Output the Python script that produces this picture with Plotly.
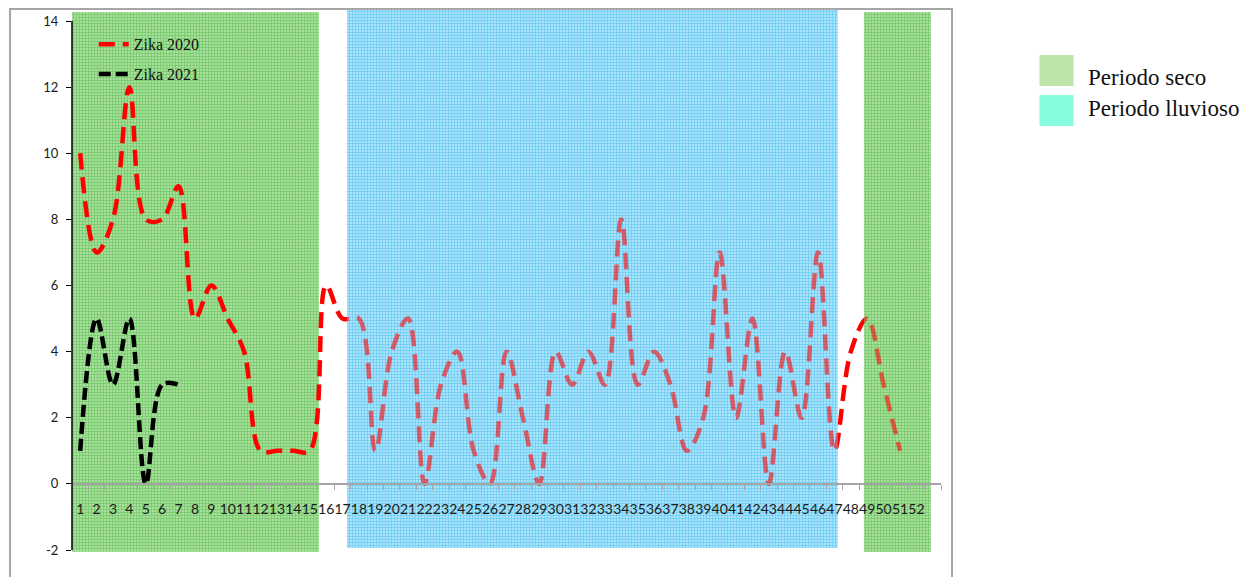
import plotly.graph_objects as go

# ---------------- data ----------------
weeks = list(range(1, 53))
week_labels = [str(w) for w in weeks]
weeks_2020 = list(range(1, 52))
zika_2020 = [10, 7, 8, 12, 8, 8, 9, 5, 6, 5, 4, 1, 1, 1, 1, 6, 5, 5, 1, 4,
             5, 0, 3, 4, 1, 0, 4, 2, 0, 4, 3, 4, 3, 8, 3, 4, 3, 1, 2, 7,
             2, 5, 0, 4, 2, 7, 1, 4, 5, 3, 1]
weeks_2021 = list(range(1, 8))
zika_2021 = [1, 5, 3, 5, 0, 3, 3]
series_names = ["Zika 2020", "Zika 2021"]

period_kind = ["seco", "lluvioso", "seco"]
period_start = [0.5, 17.27, 48.8]
period_end = [15.56, 47.2, 52.88]
period_bottom = [-2.05, -1.94, -2.05]
period_top = [14.27, 14.33, 14.27]
period_labels = ["Periodo seco", "Periodo lluvioso"]

y_ticks = [-2, 0, 2, 4, 6, 8, 10, 12, 14]
y_tick_labels = ["-2", "0", "2", "4", "6", "8", "10", "12", "14"]

# ---------------- styles ----------------
X_RANGE = [0.5, 53.5]
Y_RANGE = [-2.06, 14.333]
band_style = {
    "seco": dict(bg="#A9DE9C", fg="#3FB83A"),
    "lluvioso": dict(bg="#ABE3FA", fg="#2FB6EE"),
}
legend_box_colors = ["#BDE5AA", "#86FDDE"]
overlay_bands = [1, 2]

fig = go.Figure()

def band_trace(i, opacity, xa, ya):
    st = band_style[period_kind[i]]
    return go.Bar(
        x=[(period_start[i] + period_end[i]) / 2],
        y=[period_top[i] - period_bottom[i]],
        base=[period_bottom[i]],
        width=[period_end[i] - period_start[i]],
        marker=dict(color=st["bg"], line=dict(width=0),
                    pattern=dict(shape="+", fgcolor=st["fg"], bgcolor=st["bg"],
                                 size=3, solidity=0.45)),
        opacity=opacity, showlegend=False, hoverinfo="skip",
        xaxis=xa, yaxis=ya,
    )

for i in range(len(period_kind)):
    fig.add_trace(band_trace(i, 1.0, "x", "y"))

fig.add_trace(go.Scatter(
    x=weeks_2020, y=zika_2020, mode="lines", name=series_names[0],
    line=dict(color="#FF0000", width=4.5, dash="16px,8px", shape="spline", smoothing=1),
    legendgroup="a",
))
fig.add_trace(go.Scatter(
    x=weeks_2021, y=zika_2021, mode="lines", name=series_names[1],
    line=dict(color="#000000", width=4.5, dash="12px,5px", shape="spline", smoothing=1),
    legendgroup="b",
))

for i in overlay_bands:
    fig.add_trace(band_trace(i, 0.42, "x2", "y2"))

zero_pos = (0 - Y_RANGE[0]) / (Y_RANGE[1] - Y_RANGE[0])

shapes = [
    # y axis line
    dict(type="line", xref="paper", yref="y", x0=0, x1=0, y0=-2, y1=14,
         line=dict(color="#000000", width=1.5), layer="above"),
    # chart border
    dict(type="rect", xref="paper", yref="paper", x0=-0.0713, x1=1.0127,
         y0=-0.1, y1=1.0018, line=dict(color="#A6A6A6", width=2), layer="above"),
]
annotations = []
box_y = [(55, 86), (95, 126)]
text_y = [78, 108]
for k, lab in enumerate(period_labels):
    y0p = (552 - box_y[k][1]) / 542
    y1p = (552 - box_y[k][0]) / 542
    shapes.append(dict(type="rect", xref="paper", yref="paper",
                       x0=(1039.5 - 72) / 869, x1=(1073.5 - 72) / 869,
                       y0=y0p, y1=y1p, fillcolor=legend_box_colors[k],
                       line=dict(width=0)))
    annotations.append(dict(text=lab, xref="paper", yref="paper",
                            x=(1086 - 72) / 869, y=(552 - text_y[k]) / 542,
                            xanchor="left", yanchor="middle", showarrow=False,
                            font=dict(family="Liberation Serif", size=23, color="#111111")))

fig.update_layout(
    width=1246, height=577,
    margin=dict(l=72, r=305, t=10, b=25, autoexpand=False),
    paper_bgcolor="white", plot_bgcolor="rgba(0,0,0,0)",
    barmode="overlay",
    showlegend=True,
    legend=dict(x=0.025, y=0.968, xanchor="left", yanchor="top",
                bgcolor="rgba(0,0,0,0)", traceorder="grouped", tracegroupgap=6,
                font=dict(family="Liberation Serif", size=16, color="#111111")),
    xaxis=dict(range=X_RANGE, anchor="free", position=zero_pos, automargin=False,
               tickmode="array", tickvals=weeks, ticktext=week_labels, tickangle=0,
               ticks="", showgrid=False, zeroline=False,
               showline=True, linecolor="#A6A6A6", linewidth=2,
               ticklabelstandoff=12,
               tickfont=dict(family="Lato", size=14, color="#1a1a1a"),
               minor=dict(tick0=0.5, dtick=1, ticks="outside", ticklen=5,
                          tickcolor="#A6A6A6", tickwidth=1, showgrid=False)),
    yaxis=dict(range=Y_RANGE, tickmode="array", tickvals=y_ticks, ticktext=y_tick_labels,
               ticks="outside", ticklen=5, automargin=False,
               tickcolor="#000000", showgrid=False, zeroline=False, showline=False,
               ticklabelstandoff=5,
               tickfont=dict(family="Lato", size=13, color="#1a1a1a")),
    xaxis2=dict(range=X_RANGE, overlaying="x", visible=False),
    yaxis2=dict(range=Y_RANGE, overlaying="y", visible=False),
    shapes=shapes,
    annotations=annotations,
)

fig.write_html("out.html", config={"displayModeBar": False},
               post_script="document.body.style.margin='0';document.body.style.overflow='hidden';")
